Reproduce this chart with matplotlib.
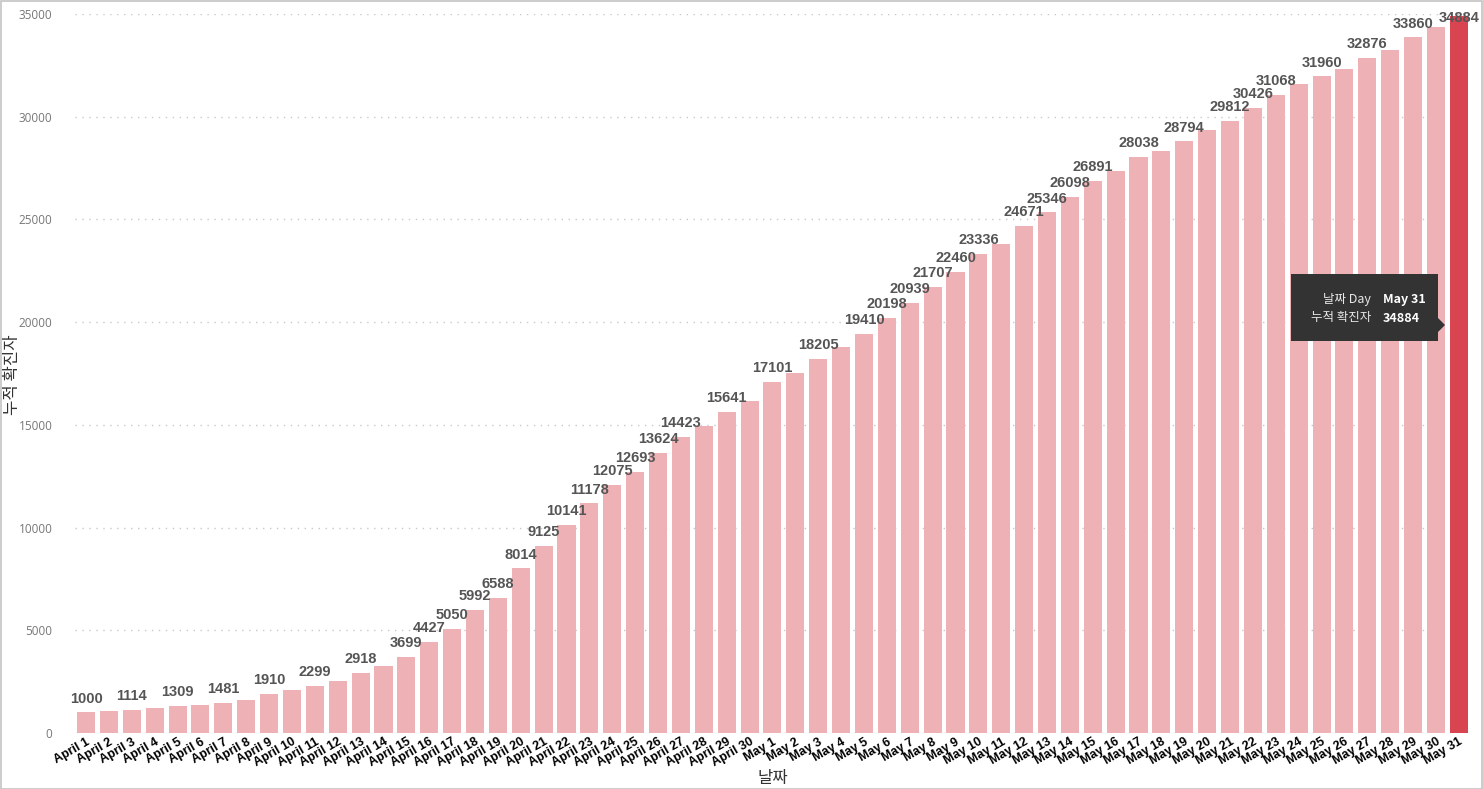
import matplotlib
matplotlib.use("Agg")
import matplotlib.pyplot as plt
from matplotlib.patches import Rectangle, Polygon

plt.rcParams['font.family'] = ['Liberation Sans', 'Noto Sans CJK KR', 'DejaVu Sans']

dates = [f"April {d}" for d in range(1, 31)] + [f"May {d}" for d in range(1, 32)]
values = [
    1000, 1050, 1114, 1195, 1309, 1376, 1481, 1615, 1910, 2105,
    2299, 2525, 2918, 3258, 3699, 4427, 5050, 5992, 6588, 8014,
    9125, 10141, 11178, 12075, 12693, 13624, 14423, 14950, 15641, 16165,
    17101, 17545, 18205, 18780, 19410, 20198, 20939, 21707, 22460, 23336,
    23790, 24671, 25346, 26098, 26891, 27360, 28038, 28340, 28794, 29360,
    29812, 30426, 31068, 31610, 31960, 32340, 32876, 33235, 33860, 34370,
    34884,
]
labeled_dates = [
    "April 1", "April 3", "April 5", "April 7", "April 9", "April 11", "April 13",
    "April 15", "April 16", "April 17", "April 18", "April 19", "April 20", "April 21",
    "April 22", "April 23", "April 24", "April 25", "April 26", "April 27", "April 29",
    "May 1", "May 3", "May 5", "May 6", "May 7", "May 8", "May 9", "May 10", "May 12",
    "May 13", "May 14", "May 15", "May 17", "May 19", "May 21", "May 22", "May 23",
    "May 25", "May 27", "May 29", "May 31",
]
y_ticks = [0, 5000, 10000, 15000, 20000, 25000, 30000, 35000]
highlight = "May 31"
tooltip_rows = [("날짜 Day", "May 31"), ("누적 확진자", "34884")]

W, H = 1483, 789
fig = plt.figure(figsize=(W / 100, H / 100), dpi=100)
fig.patch.set_facecolor("white")

x0, x1 = 74.6, 1470.3
y0, y1 = 733, 14
ax = fig.add_axes([x0 / W, 1 - y0 / H, (x1 - x0) / W, (y0 - y1) / H])

pink = "#EEB1B6"
red = "#D84550"
colors = [red if d == highlight else pink for d in dates]
xs = list(range(len(dates)))
ax.bar(xs, values, width=0.79, color=colors, zorder=2)

ax.set_xlim(-0.5, len(dates) - 0.5)
ax.set_ylim(0, 35000)
ax.set_yticks(y_ticks)
ax.set_yticklabels([str(t) for t in y_ticks], color="#777777", fontsize=8.5,
                   family=['Open Sans', 'DejaVu Sans'])
ax.tick_params(axis='y', length=0, pad=16)
ax.tick_params(axis='x', length=0, pad=2)
ax.set_xticks(xs)
ax.set_xticklabels(dates, rotation=30, ha='right', rotation_mode='anchor',
                   fontsize=9, fontweight='bold', color='black')
for s in ax.spines.values():
    s.set_visible(False)
ax.grid(axis='y', color='#c8c8c8', linestyle=(0, (1, 4)), linewidth=1.0, zorder=0)
ax.set_axisbelow(True)

label_cap = 34450
for x, d, v in zip(xs, dates, values):
    if d in labeled_dates:
        ax.text(x, min(v + 330, label_cap), str(v), ha='center', va='bottom', fontsize=10.5,
                fontweight='bold', color='#555555', zorder=5, clip_on=False)

def fx(px):
    return px / W

def fy(py):
    return 1 - py / H

fig.text(fx(773), fy(778), "날짜", ha='center', va='center', fontsize=12, color='#333333',
         family=['Noto Sans CJK KR', 'DejaVu Sans'])
fig.text(fx(13), fy(375), "누적 확진자", ha='center', va='center', fontsize=12,
         color='#333333', rotation=90, family=['Noto Sans CJK KR', 'DejaVu Sans'])

# tooltip
fig.patches.append(Rectangle((fx(1291), fy(341)), fx(1438) - fx(1291), fy(274) - fy(341),
                             transform=fig.transFigure, facecolor='#333333',
                             edgecolor='none', zorder=10))
fig.patches.append(Polygon([(fx(1438), fy(318)), (fx(1445), fy(325)), (fx(1438), fy(332))],
                           closed=True, transform=fig.transFigure, facecolor='#333333',
                           edgecolor='none', zorder=10))
for i, (k, v) in enumerate(tooltip_rows):
    yy = 299 + i * 19
    fig.text(fx(1371), fy(yy), k, ha='right', va='center', color='#e8e8e8', fontsize=9,
             family=['Noto Sans CJK KR', 'DejaVu Sans'], zorder=11)
    fig.text(fx(1383), fy(yy), v, ha='left', va='center', color='white', fontsize=9,
             fontweight='bold', family=['Noto Sans CJK KR', 'DejaVu Sans'], zorder=11)

# border
fig.patches.append(Rectangle((0.5 / W, 0.5 / H), 1 - 1.5 / W, 1 - 1.5 / H,
                             transform=fig.transFigure, fill=False,
                             edgecolor='#c4c4c4', linewidth=1.2, zorder=20))

fig.savefig("out.png", dpi=100)
